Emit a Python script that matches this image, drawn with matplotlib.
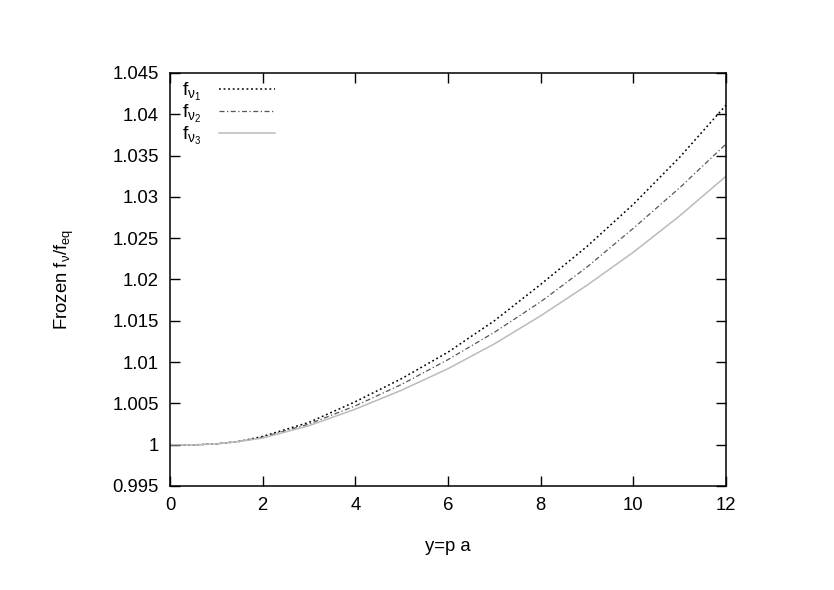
import matplotlib
matplotlib.use('Agg')
import matplotlib.pyplot as plt

plt.rcParams['font.family'] = ['Liberation Sans', 'DejaVu Sans']
plt.rcParams['mathtext.fontset'] = 'custom'
plt.rcParams['mathtext.rm'] = 'Liberation Sans'
plt.rcParams['mathtext.it'] = 'Liberation Sans'

# values
y_vals = [0, 0.5, 1, 1.5, 2, 3, 4, 5, 6, 7, 8, 9, 10, 11, 12]
f_nu1 = [1.0, 0.99997, 1.0001, 1.0004, 1.0010, 1.0027, 1.0052, 1.0080,
         1.0112, 1.0150, 1.0194, 1.0240, 1.0291, 1.0348, 1.0411]
f_nu2 = [1.0, 0.99997, 1.0001, 1.0004, 1.0009, 1.0025, 1.0047, 1.0073,
         1.0103, 1.0136, 1.0173, 1.0215, 1.0262, 1.0311, 1.0364]
f_nu3 = [1.0, 0.99997, 1.0001, 1.0004, 1.0008, 1.0023, 1.0043, 1.0066,
         1.0092, 1.0122, 1.0156, 1.0193, 1.0233, 1.0277, 1.0325]

labels = [r'$\mathregular{f_{\nu_1}}$', r'$\mathregular{f_{\nu_2}}$', r'$\mathregular{f_{\nu_3}}$']
x_ticks = [0, 2, 4, 6, 8, 10, 12]
y_ticks = [0.995, 1, 1.005, 1.01, 1.015, 1.02, 1.025, 1.03, 1.035, 1.04, 1.045]
y_tick_labels = ['0.995', '1', '1.005', '1.01', '1.015', '1.02', '1.025',
                 '1.03', '1.035', '1.04', '1.045']

fig = plt.figure(figsize=(8.34, 5.90), dpi=100)
ax = fig.add_axes([0.2038, 0.1763, 0.6667, 0.7])

ax.plot(y_vals, f_nu1, color='black', linestyle=(0, (1.2, 1.8)), linewidth=1.1, label=labels[0])
ax.plot(y_vals, f_nu2, color='#555555', linestyle=(0, (4, 2, 1, 2)), linewidth=0.9, label=labels[1])
ax.plot(y_vals, f_nu3, color='#bbbbbb', linestyle='-', linewidth=1.1, label=labels[2])

ax.set_xlim(0, 12)
ax.set_ylim(0.995, 1.045)
ax.set_xticks(x_ticks)
ax.set_yticks(y_ticks)
ax.set_yticklabels(y_tick_labels)
ax.tick_params(direction='in', length=7, width=1, top=True, right=True,
               labelsize=13.3, pad=8)
for s in ax.spines.values():
    s.set_linewidth(1.1)

ax.set_xlabel('y=p a', fontsize=13.3, labelpad=17)
ax.set_ylabel(r'Frozen $\mathregular{f_\nu/f_{eq}}$', fontsize=13.3, labelpad=26)

ax.legend(loc='upper left', frameon=False, markerfirst=False, fontsize=14,
          handlelength=2.9, handletextpad=0.9, labelspacing=0.0,
          borderaxespad=0.0, borderpad=0.3, bbox_to_anchor=(0.011, 0.995))

fig.savefig('out.png', dpi=100)
